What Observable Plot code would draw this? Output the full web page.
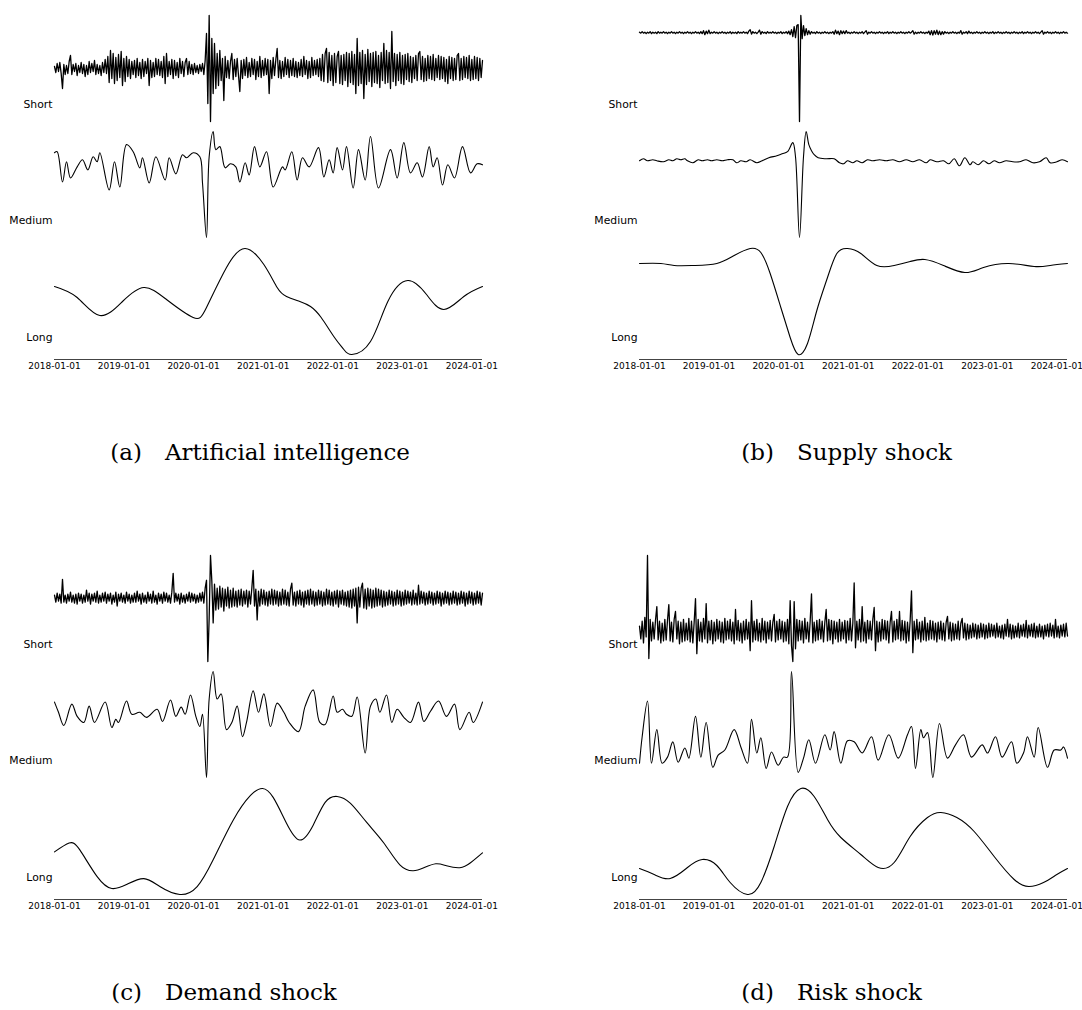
<!DOCTYPE html>
<html>
<head>
<meta charset="utf-8">
<script src="https://cdn.jsdelivr.net/npm/d3@7"></script>
<script src="https://cdn.jsdelivr.net/npm/@observablehq/plot@0.6"></script>
<style>
  html, body { margin: 0; padding: 0; background: #fff; overflow: hidden; }
  #page { position: relative; width: 1082px; height: 1010px; }
  .cap { position: absolute; font-family: "DejaVu Serif", serif; font-size: 23px; line-height: 23px; color: #000; white-space: nowrap; }
</style>
</head>
<body>
<div id="page"></div>
<script>
// Weekly time index: week 0 is 2018-01-01, last week is 321 (early March 2024).
const START = Date.UTC(2018, 0, 1);
const WEEK_MS = 7 * 864e5;
const LAST_WEEK = 321;
const tickLabels = ["2018-01-01", "2019-01-01", "2020-01-01", "2021-01-01", "2022-01-01", "2023-01-01", "2024-01-01"];
const bandLabels = ["Short", "Medium", "Long"];
const panelLetters = ["(a)", "(b)", "(c)", "(d)"];
const panelTitles = ["Artificial intelligence", "Supply shock", "Demand shock", "Risk shock"];

// ---- (a) Artificial intelligence ----
// short-horizon component, one value per week
const aiShort = [
  2,-4,5,-3,6,-5,-20,4,-6,3,-5,7,13,-6,4,-3,5,-7,3,-4,
  6,-5,4,-8,3,-6,7,-4,5,-3,8,-6,4,-5,3,-7,6,-4,9,-5,
  12,-14,18,-10,15,-15,11,-12,14,-9,17,-17,10,-13,12,-8,9,-10,7,-6,
  8,-9,10,-7,6,-10,9,-8,7,-5,10,-17,8,-9,6,-8,10,-6,9,-7,
  7,-9,12,-15,15,-8,7,-6,9,-10,8,-7,6,-9,10,-5,7,-8,6,10,
  -6,7,-5,4,-6,5,-4,3,-5,4,-3,5,-6,8,35,-35,53,-53,30,-25,
  25,-20,15,-17,18,-12,10,-32,12,-9,8,-10,7,15,-11,9,-8,10,-7,-23,
  8,-10,9,-7,11,-9,6,-8,10,-6,9,-11,7,-8,12,-9,8,-7,10,-6,
  9,-25,8,-10,11,-7,9,20,-9,8,-10,7,-8,11,-6,9,-9,8,-7,10,
  -8,7,-9,6,-7,9,-8,12,-6,8,-10,7,-9,11,-7,8,-6,9,-8,10,
  -12,14,-13,15,20,-14,16,-12,13,-17,15,-14,12,17,-15,13,-16,14,-12,16,
  -18,15,-14,17,-16,14,-25,30,-17,16,-15,18,-30,14,-16,19,-13,15,-18,16,
  -14,17,-15,13,-19,16,-12,25,-15,18,-14,16,-20,37,-13,15,-17,14,-12,16,
  -15,13,-16,14,-11,15,-13,12,-14,11,-10,13,-12,15,17,-11,12,-13,10,-12,
  13,-10,12,-11,14,-12,10,-9,13,-11,12,-10,11,-13,9,-15,12,-10,11,-12,
  10,-11,13,15,-12,10,-11,12,-9,11,-10,13,-12,9,-11,12,-10,11,-12,10,-9,8
];
// medium-horizon component, [week, value] at turning points
const aiMedium = [
  [0,84],[2,85],[6,55],[9,75],[12,59],[17,70],[21,77],[25,67],[29,80],[32,75],[34,84],
  [41,47],[45,75],[49,50],[54,92],[59,85],[64,69],[66,79],[71,54],[76,80],[83,57],[86,79],
  [91,63],[96,82],[99,79],[104,84],[109,80],[111,54],[114,0],[116,80],[119,105],[121,87],
  [124,90],[128,69],[132,73],[136,70],[139,55],[143,74],[146,62],[150,90],[154,70],[159,85],
  [164,50],[171,70],[173,67],[178,85],[182,57],[186,79],[191,70],[198,89],[202,60],[206,77],
  [209,64],[212,89],[216,67],[219,90],[224,49],[228,87],[233,57],[237,100],[243,49],[252,87],
  [257,59],[262,94],[267,64],[272,74],[276,60],[281,90],[284,70],[287,79],[291,52],[295,72],
  [300,59],[306,90],[312,64],[317,73],[321,72]
];
// long-horizon component
const aiLong = [
  [0,68],[17,57],[34,39],[51,53],[67,67],[84,55],[104,37],[114,47],[129,87],[143,106],
  [157,90],[167,67],[174,58],[184,53],[192,48],[200,37],[210,17],[217,5],[223,0],[237,13],
  [250,53],[265,74],[279,60],[292,45],[307,58],[321,68]
];

// ---- (b) Supply shock ----
const supplyShort = [
  0.5,-0.5,1,-0.5,0.5,-1,0.5,-0.5,1,-1,0.5,-0.5,0.5,-1,1,-0.5,0.5,-0.5,1,-0.5,
  0.5,-1,0.5,-0.5,1,-0.5,0.5,-1,0.5,-0.5,1,-0.5,0.5,-1,0.5,-0.5,1,-0.5,0.5,-1,
  0.5,-0.5,1,-0.5,0.5,-1,1,-1,2,-2,1.5,-1,2.5,-1,0.5,-0.5,1,-0.5,0.5,-1,
  0.5,-0.5,1,-0.5,0.5,-1,0.5,-0.5,1,-1,0.5,-0.5,0.5,-1,1,-0.5,0.5,-0.5,1,-0.5,
  0.5,-1,1.5,3,-1.5,1,-0.5,0.5,-1,0.5,2.5,-1.5,1,-0.5,0.5,-1,1,-0.5,0.5,-0.5,
  1,-0.5,0.5,-1,0.5,-0.5,1,-1,0.5,-0.5,1,-1,1.5,-2,3,-4,6,-5,7,8,
  -88,17,-6,7,-3,4,-2,2,-1.5,1,-0.5,0.5,-1,1,-0.5,0.5,-1,0.5,-0.5,1,
  -0.5,0.5,-1,0.5,-0.5,1,-1.5,2.5,-1,1.5,-2,2,-1,1.5,-1,2,-0.5,0.5,-1,0.5,
  -0.5,1,-0.5,0.5,-1,0.5,-0.5,1,-1,0.5,2,-1.5,0.5,-0.5,1,-0.5,0.5,-1,0.5,-0.5,
  1,-0.5,0.5,-1,0.5,-0.5,1,-1,0.5,-0.5,1,-0.5,0.5,-1,0.5,-0.5,1,-0.5,0.5,-1,
  0.5,-0.5,1,-0.5,0.5,2,-1.5,0.5,-1,0.5,-0.5,1,-0.5,0.5,-1,0.5,-0.5,1.5,-2,2,
  -2.5,2,-1.5,2.5,-2,1.5,-2,1,-1.5,1,-0.5,0.5,-1,0.5,-0.5,1,-0.5,0.5,-1,0.5,
  -0.5,2,-1.5,0.5,-0.5,1,-1,1.5,-0.5,0.5,-1,0.5,-0.5,1,-0.5,0.5,-1,0.5,-0.5,1,
  -0.5,0.5,-1,0.5,-0.5,1,-1,0.5,-0.5,1,-0.5,0.5,-1,0.5,-0.5,1,-0.5,0.5,-1,0.5,
  -0.5,1,-0.5,0.5,-1,0.5,-0.5,1,-1,0.5,-0.5,1,-0.5,0.5,-1,0.5,-0.5,1,-0.5,0.5,
  -1,0.5,2,-1.5,0.5,-0.5,1,-0.5,0.5,-1,0.5,-0.5,1,-0.5,0.5,-1,0.5,-0.5,1,-0.5,0.5,-0.5
];
const supplyMedium = [
  [0,76],[3,78],[6,76],[10,77],[13,76],[18,75],[22,77],[25,76],[28,78],[31,77],[34,78],
  [36,76],[40,74],[44,77],[47,76],[51,77],[54,76],[58,77],[62,76],[66,77],[70,77],[73,74],
  [76,76],[80,75],[83,77],[88,74],[92,76],[97,79],[103,81],[107,83],[111,85],[115,94],
  [117,80],[120,0],[123,80],[125,105],[127,92],[129,86],[131,82],[134,79],[140,78],[146,78],
  [150,74],[153,73],[156,76],[160,74],[163,76],[167,74],[171,77],[175,76],[180,77],[185,76],
  [190,77],[195,75],[200,77],[205,75],[210,77],[215,74],[218,77],[223,75],[228,76],[232,73],
  [236,78],[240,71],[244,79],[248,72],[250,75],[254,72],[258,76],[262,73],[266,76],[270,74],
  [275,76],[280,75],[285,75],[290,77],[295,74],[300,75],[305,79],[308,74],[313,75],[317,77],
  [321,75]
];
const supplyLong = [
  [0,91],[16,91],[26,89],[41,89],[58,91],[71,99],[83,106],[91,102],[98,81],[106,47],
  [113,17],[119,0],[126,11],[133,44],[141,77],[148,101],[156,106],[166,101],[178,89],[191,89],
  [203,93],[214,95],[228,89],[244,82],[258,87],[277,91],[296,88],[308,89],[321,91]
];

// ---- (c) Demand shock ----
const demandShort = [
  3,-4,5,-3,4,-5,19,-4,3,-5,4,-3,6,-4,3,-5,4,-6,5,-3,
  4,-5,3,-4,8,-3,5,-6,4,-3,5,-4,7,-5,3,-4,5,-3,6,-5,
  4,-3,5,-6,3,-4,6,-8,4,-3,5,-4,3,-5,6,-3,4,-5,3,-4,
  5,-4,7,-3,4,-6,5,-4,3,-5,6,-3,4,-5,7,-4,3,-6,5,-3,
  4,-5,6,-3,5,-4,3,-5,6,25,-4,5,-3,4,-6,5,-4,3,-5,4,
  -3,6,-4,5,-3,4,-5,3,-4,5,-3,6,-5,10,18,-64,-20,43,17,-25,
  14,-12,10,-11,12,-9,10,-13,9,-8,11,-10,8,-9,10,-8,7,-9,8,-7,
  9,-8,7,-6,8,-9,7,-6,10,28,-8,9,-22,7,-8,9,-6,8,-7,6,
  -8,7,-6,9,-7,8,-6,7,-8,6,-7,9,-6,8,-7,6,-8,9,15,-7,
  6,-8,7,-6,8,-7,6,-9,7,-6,8,-7,9,-6,7,-8,6,-7,8,-6,
  7,-8,6,-7,9,-6,8,-7,6,-8,7,-6,8,-9,7,-6,8,-7,6,-8,
  7,-9,8,-10,9,-8,10,-25,11,-9,10,15,-10,9,-11,10,-8,9,-10,8,
  -9,10,-8,9,-7,8,-9,7,-8,6,-7,8,-6,7,-8,6,-7,8,-6,7,
  -8,6,-7,8,-6,7,-5,6,-7,8,-6,5,-7,13,-6,7,-5,6,-7,5,
  -6,7,-5,6,-7,5,-6,7,-5,6,-8,5,-6,7,-5,6,-7,5,-6,7,
  -5,6,-7,5,-6,7,-5,6,-8,5,-6,7,-5,6,-7,5,-6,7,-5,6,-7,5
];
const demandMedium = [
  [0,75],[3,65],[7,52],[13,73],[17,61],[22,55],[26,71],[30,55],[38,75],[43,50],[46,58],
  [48,55],[54,76],[58,63],[64,65],[69,60],[77,68],[81,56],[87,77],[91,61],[95,70],[98,63],
  [102,82],[106,61],[109,51],[111,63],[114,1],[116,78],[119,105],[122,78],[125,83],[129,48],
  [133,55],[137,71],[141,41],[144,55],[149,86],[153,65],[157,83],[162,51],[167,74],[172,65],
  [176,55],[183,46],[188,71],[194,87],[199,55],[203,53],[209,81],[212,65],[216,68],[219,63],
  [223,61],[227,80],[233,25],[237,71],[241,78],[244,65],[249,82],[253,55],[257,68],[262,60],
  [267,55],[273,75],[277,56],[282,66],[288,76],[294,61],[300,73],[304,48],[311,65],[314,55],
  [321,75]
];
const demandLong = [
  [0,43],[11,52],[19,45],[32,18],[43,6],[54,10],[67,16],[79,8],[94,0],[107,8],
  [119,35],[134,75],[147,100],[156,107],[164,98],[174,72],[184,55],[194,70],[203,93],[212,99],
  [222,92],[234,73],[247,52],[259,30],[269,24],[277,27],[286,31],[294,29],[304,27],[312,32],
  [321,42]
];

// ---- (d) Risk shock ----
const riskShort = [
  5,-8,10,-12,14,-6,77,-28,12,-10,9,-8,11,25,-9,10,-12,8,-10,12,
  -9,11,27,-10,9,-11,12,20,-8,10,-13,9,-11,12,-10,8,-9,13,-11,10,
  -12,9,33,-23,12,-10,9,-11,13,-8,28,-12,10,-9,11,-13,9,-10,12,-8,
  10,-11,9,-12,13,-9,10,-8,12,-10,9,-13,22,-9,11,-10,8,-12,10,-9,
  12,-8,9,-20,31,-11,10,-9,12,-10,8,-11,13,-9,10,-12,9,-8,11,-10,
  9,17,-11,10,-9,12,-8,10,-11,9,-10,12,-13,31,-15,-31,30,-18,12,-10,
  11,-9,10,-12,13,-8,9,-11,10,38,-12,9,-10,11,-9,12,-8,10,-11,9,
  22,-10,12,-9,11,-13,10,-8,9,-11,12,-10,9,-8,11,-12,10,-9,13,-10,
  8,49,-17,10,-9,12,-11,25,-10,9,-12,11,-8,10,-9,12,24,-20,10,-11,
  9,-10,12,-8,11,-9,10,-12,9,20,-11,10,-9,12,-8,20,-10,11,-9,10,
  -12,9,-10,11,41,-22,10,-9,12,-8,9,-11,10,-9,14,-10,8,-9,11,-8,
  10,-9,8,-11,9,-8,10,-9,8,-10,9,15,-8,9,-10,8,-9,7,-8,10,
  -9,8,13,-7,8,-9,7,-8,6,-7,8,-6,7,-8,6,-7,8,-6,7,-8,
  6,-7,8,-6,7,-5,6,-7,8,-6,5,-7,6,-8,7,-5,12,-6,7,-8,
  6,-7,5,-6,8,-7,6,-5,7,-6,11,-7,6,-5,7,-6,8,-7,5,-6,
  7,-6,5,-8,6,-5,7,-6,8,-5,6,-7,12,-6,5,-7,6,-5,7,-6,8,-5
];
const riskMedium = [
  [0,15],[2,41],[6,76],[9,15],[13,48],[17,15],[21,21],[25,36],[29,16],[34,30],[37,20],
  [42,61],[46,21],[50,55],[55,11],[59,23],[64,28],[71,48],[76,31],[81,15],[84,58],[88,25],
  [91,40],[95,10],[99,26],[104,13],[108,21],[111,21],[114,105],[119,6],[123,20],[127,38],
  [132,15],[139,43],[143,28],[146,46],[151,15],[156,37],[161,36],[167,25],[174,41],[179,18],
  [187,43],[194,20],[201,43],[204,51],[207,10],[211,48],[213,40],[216,45],[220,1],[225,54],
  [231,20],[237,33],[243,43],[249,21],[257,33],[261,25],[267,41],[272,21],[279,36],[283,15],
  [288,25],[291,41],[296,21],[299,50],[306,11],[311,28],[316,28],[318,31],[321,20]
];
const riskLong = [
  [0,26],[11,20],[23,16],[36,27],[47,35],[58,29],[68,12],[81,0],[91,12],[101,48],
  [111,88],[121,106],[131,98],[141,75],[151,57],[166,40],[179,27],[191,32],[203,58],[216,77],
  [226,82],[238,77],[251,63],[266,38],[281,15],[292,8],[303,12],[313,20],[321,26]
];

const weekDate = w => new Date(START + w * WEEK_MS);
const xDomain = [weekDate(0), weekDate(LAST_WEEK)];
const tickDates = tickLabels.map(s => new Date(s + "T00:00:00Z"));

const panels = [
  {short: aiShort, medium: aiMedium, long: aiLong},
  {short: supplyShort, medium: supplyMedium, long: supplyLong},
  {short: demandShort, medium: demandMedium, long: demandLong},
  {short: riskShort, medium: riskMedium, long: riskLong}
];

// page layout of the 2x2 grid (pixels)
const panelLeft = [0, 585, 0, 585];
const panelTop = [0, 0, 540, 540];
const bandTop = [15, 131, 248];
const captionLeft = [165, 797, 165, 797];
const captionBaseline = [460, 460, 1000, 1000];

const page = document.getElementById("page");

function bandPlot(data, label, withAxis, strokeWidth, curve) {
  const marks = [
    Plot.line(data, {x: "date", y: "value", stroke: "#000", strokeWidth, curve}),
    Plot.text([label], {
      text: d => d, frameAnchor: "bottom-left", dx: -2, dy: withAxis ? -22 : -17,
      textAnchor: "end", lineAnchor: "middle", fontSize: 10.8, fill: "#000"
    })
  ];
  if (withAxis) {
    marks.push(Plot.ruleY([d3.min(data, d => d.value)], {dy: 5, stroke: "#444", strokeWidth: 1}));
    marks.push(Plot.axisX({
      ticks: tickDates, tickFormat: d3.utcFormat("%Y-%m-%d"),
      tickSize: 0, tickPadding: 3, fontSize: 9, label: null
    }));
  }
  return Plot.plot({
    width: 512,
    height: withAxis ? 132 : 108,
    marginLeft: 54, marginRight: 30, marginTop: 1,
    marginBottom: withAxis ? 20 : 1,
    insetBottom: withAxis ? 5 : 0,
    x: withAxis ? {type: "utc", domain: xDomain} : {type: "utc", domain: xDomain, axis: null},
    y: {axis: null},
    style: {fontFamily: "DejaVu Sans", background: "transparent", overflow: "visible"},
    marks
  });
}

function place(el, left, top) {
  el.style.position = "absolute";
  el.style.left = left + "px";
  el.style.top = top + "px";
  page.appendChild(el);
}

panels.forEach((p, i) => {
  const shortData = p.short.map((v, w) => ({date: weekDate(w), value: v}));
  const mediumData = p.medium.map(([w, v]) => ({date: weekDate(w), value: v}));
  const longData = p.long.map(([w, v]) => ({date: weekDate(w), value: v}));

  place(bandPlot(shortData, bandLabels[0], false, 1.3, "linear"), panelLeft[i], panelTop[i] + bandTop[0] - 1);
  place(bandPlot(mediumData, bandLabels[1], false, 1.1, "catmull-rom"), panelLeft[i], panelTop[i] + bandTop[1] - 1);
  place(bandPlot(longData, bandLabels[2], true, 1.1, "natural"), panelLeft[i], panelTop[i] + bandTop[2] - 1);

  // caption: letter right-aligned before the title
  const top = captionBaseline[i] - 19.5;
  const letter = document.createElement("div");
  letter.className = "cap";
  letter.textContent = panelLetters[i];
  letter.style.left = (captionLeft[i] - 23 - 60) + "px";
  letter.style.width = "60px";
  letter.style.textAlign = "right";
  letter.style.top = top + "px";
  page.appendChild(letter);

  const title = document.createElement("div");
  title.className = "cap";
  title.textContent = panelTitles[i];
  title.style.left = captionLeft[i] + "px";
  title.style.top = top + "px";
  page.appendChild(title);
});
</script>
</body>
</html>
